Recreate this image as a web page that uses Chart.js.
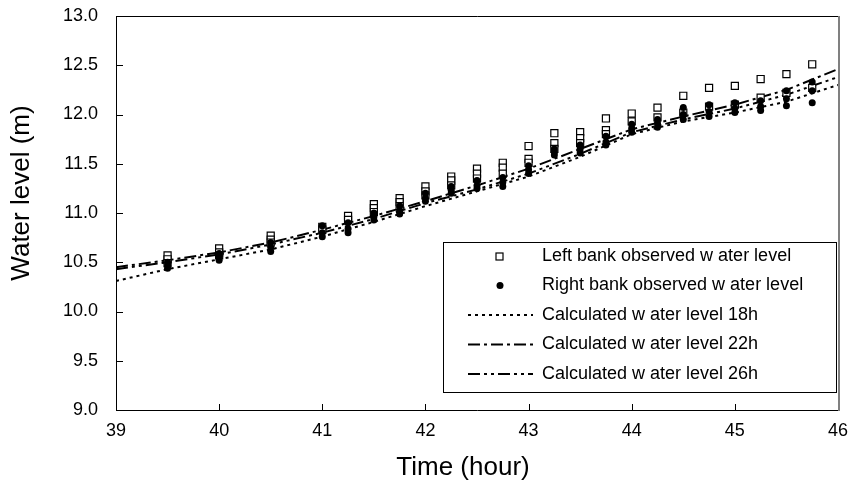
<!DOCTYPE html>
<html>
<head>
<meta charset="utf-8">
<script src="https://cdn.jsdelivr.net/npm/chart.js@4.4.0/dist/chart.umd.min.js"></script>
<style>
  html, body { margin: 0; padding: 0; background: #fff; }
</style>
</head>
<body>
<canvas id="chart" width="854" height="488"></canvas>
<script>
// observation times (hour) and stacked gauge readings at each time
const obsTimes = [39.5, 40, 40.5, 41, 41.25, 41.5, 41.75, 42, 42.25, 42.5, 42.75, 43,
  43.25, 43.5, 43.75, 44, 44.25, 44.5, 44.75, 45, 45.25, 45.5, 45.75];

const leftBank = [
  [10.57, 10.53, 10.49], [10.64, 10.60, 10.57], [10.77, 10.73, 10.70], [10.86, 10.83],
  [10.97, 10.93], [11.09, 11.05, 11.01], [11.15, 11.11, 11.07], [11.27, 11.22, 11.18],
  [11.37, 11.33, 11.28], [11.45, 11.40, 11.35], [11.51, 11.46, 11.40], [11.68, 11.55, 11.51],
  [11.81, 11.71, 11.65], [11.82, 11.76, 11.71], [11.96, 11.84, 11.80], [12.01, 11.93],
  [12.07, 11.97], [12.19, 12.02], [12.27, 12.08], [12.29, 12.10],
  [12.36, 12.17], [12.41, 12.22], [12.51, 12.27]
];

const rightBank = [
  [10.50, 10.47, 10.44], [10.59, 10.56, 10.52], [10.70, 10.65, 10.61], [10.87, 10.80, 10.76],
  [10.90, 10.84, 10.80], [11.00, 10.96, 10.93], [11.07, 11.02, 10.99], [11.20, 11.15, 11.12],
  [11.27, 11.23, 11.20], [11.33, 11.28, 11.25], [11.36, 11.31, 11.27], [11.48, 11.44, 11.40],
  [11.65, 11.62, 11.59], [11.69, 11.65, 11.61], [11.78, 11.72, 11.69], [11.90, 11.86, 11.82],
  [11.95, 11.91, 11.87], [12.07, 12.00, 11.95], [12.10, 12.03, 11.98], [12.12, 12.06, 12.02],
  [12.14, 12.08, 12.04], [12.24, 12.16, 12.09], [12.33, 12.24, 12.12]
];

// calculated water levels
const calcTimes = [39, 39.5, 40, 40.5, 41, 41.5, 42, 42.5, 43, 43.5, 44, 44.5, 45, 45.5, 46];
const calc18h = [10.31, 10.43, 10.53, 10.63, 10.76, 10.91, 11.07, 11.22, 11.37, 11.57, 11.80, 11.93, 12.02, 12.13, 12.30];
const calc22h = [10.45, 10.52, 10.60, 10.70, 10.83, 10.97, 11.12, 11.28, 11.45, 11.65, 11.85, 11.98, 12.10, 12.25, 12.46];
const calc26h = [10.43, 10.50, 10.58, 10.68, 10.80, 10.94, 11.10, 11.24, 11.40, 11.60, 11.82, 11.95, 12.06, 12.20, 12.38];

const xTitle = "Time (hour)";
const yTitle = "Water level (m)";

const FONT = "'Liberation Sans', Arial, sans-serif";

function stackPoints(times, groups) {
  return times.flatMap((t, i) => groups[i].map(v => ({ x: t, y: v })));
}
function linePoints(times, vals) {
  return times.map((t, i) => ({ x: t, y: vals[i] }));
}

// inward ticks + frame
const frameTicks = {
  id: "frameTicks",
  afterDatasetsDraw(chart) {
    const { ctx, chartArea: a, scales: { x, y } } = chart;
    ctx.save();
    ctx.strokeStyle = "#000";
    ctx.lineWidth = 1;
    ctx.beginPath();
    x.ticks.forEach(t => {
      const px = Math.round(x.getPixelForValue(t.value)) + 0.5;
      ctx.moveTo(px, a.bottom);
      ctx.lineTo(px, a.bottom - 6);
    });
    y.ticks.forEach(t => {
      const py = Math.round(y.getPixelForValue(t.value)) + 0.5;
      ctx.moveTo(a.left, py);
      ctx.lineTo(a.left + 7, py);
    });
    ctx.stroke();
    ctx.beginPath();
    ctx.moveTo(a.right, a.top + 0.5);
    ctx.lineTo(a.left + 0.5, a.top + 0.5);
    ctx.lineTo(a.left + 0.5, a.bottom + 0.5);
    ctx.lineTo(a.right, a.bottom + 0.5);
    ctx.stroke();
    ctx.strokeStyle = "#808080";
    ctx.lineWidth = 2;
    ctx.beginPath();
    ctx.moveTo(a.right + 1, a.top);
    ctx.lineTo(a.right + 1, a.bottom + 1);
    ctx.stroke();
    ctx.restore();
  }
};

// axis titles, placed a little off-centre like the original
const axisTitles = {
  id: "axisTitles",
  afterDraw(chart) {
    const { ctx, chartArea: a } = chart;
    ctx.save();
    ctx.fillStyle = "#000";
    ctx.font = "26px " + FONT;
    ctx.textAlign = "center";
    ctx.textBaseline = "middle";
    ctx.fillText(xTitle, (a.left + a.right) / 2 - 14, a.bottom + 58);
    ctx.translate(22, (a.top + a.bottom) / 2 - 20);
    ctx.rotate(-Math.PI / 2);
    ctx.fillText(yTitle, 0, 0);
    ctx.restore();
  }
};

// legend box inside the plot, lower right
const legendBox = {
  id: "legendBox",
  afterDraw(chart) {
    const { ctx, chartArea: a } = chart;
    const x0 = a.left + 327, y0 = a.top + 226, w = a.right - 2 - x0, h = 150;
    ctx.save();
    ctx.fillStyle = "#fff";
    ctx.fillRect(x0, y0, w, h);
    ctx.strokeStyle = "#000";
    ctx.lineWidth = 1;
    ctx.strokeRect(x0 + 0.5, y0 + 0.5, w, h);
    ctx.font = "18px " + FONT;
    ctx.textBaseline = "middle";
    chart.data.datasets.forEach((ds, i) => {
      const cy = y0 + 14 + i * 29.5;
      if (ds.showLine) {
        ctx.strokeStyle = ds.borderColor;
        ctx.lineWidth = ds.borderWidth;
        ctx.setLineDash(ds.borderDash);
        ctx.beginPath();
        ctx.moveTo(x0 + 25, cy);
        ctx.lineTo(x0 + 90, cy);
        ctx.stroke();
        ctx.setLineDash([]);
      } else {
        ctx.strokeStyle = ds.borderColor;
        ctx.fillStyle = ds.backgroundColor;
        ctx.lineWidth = 1.2;
        if (ds.pointStyle === "rect") {
          ctx.fillRect(x0 + 53, cy - 3, 7, 7);
          ctx.strokeRect(x0 + 53, cy - 3, 7, 7);
        } else {
          ctx.beginPath();
          ctx.arc(x0 + 57, cy, 3.5, 0, Math.PI * 2);
          ctx.fill();
        }
      }
      ctx.fillStyle = "#000";
      ctx.fillText(ds.label, x0 + 99, cy);
    });
    ctx.restore();
  }
};

new Chart(document.getElementById("chart"), {
  type: "scatter",
  data: {
    datasets: [
      {
        label: "Left bank observed w ater level",
        data: stackPoints(obsTimes, leftBank),
        order: 1,
        pointStyle: "rect",
        pointRadius: 5,
        backgroundColor: "#fff",
        borderColor: "#000",
        borderWidth: 1.2,
        showLine: false
      },
      {
        label: "Right bank observed w ater level",
        data: stackPoints(obsTimes, rightBank),
        order: 0,
        pointStyle: "circle",
        pointRadius: 3.5,
        backgroundColor: "#000",
        borderColor: "#000",
        borderWidth: 0,
        showLine: false
      },
      {
        label: "Calculated w ater level 18h",
        data: linePoints(calcTimes, calc18h),
        order: 2,
        showLine: true,
        pointRadius: 0,
        borderColor: "#000",
        borderWidth: 2,
        borderDash: [3, 4],
        backgroundColor: "#000"
      },
      {
        label: "Calculated w ater level 22h",
        data: linePoints(calcTimes, calc22h),
        order: 2,
        showLine: true,
        pointRadius: 0,
        borderColor: "#000",
        borderWidth: 2,
        borderDash: [12, 4, 3, 4],
        backgroundColor: "#000"
      },
      {
        label: "Calculated w ater level 26h",
        data: linePoints(calcTimes, calc26h),
        order: 2,
        showLine: true,
        pointRadius: 0,
        borderColor: "#000",
        borderWidth: 2,
        borderDash: [12, 4, 3, 4, 3, 4],
        backgroundColor: "#000"
      }
    ]
  },
  options: {
    responsive: false,
    animation: false,
    devicePixelRatio: 1,
    layout: { padding: { top: 16, right: 16, left: 0, bottom: 0 } },
    plugins: {
      legend: { display: false },
      tooltip: { enabled: false }
    },
    scales: {
      x: {
        type: "linear",
        min: 39,
        max: 46,
        afterFit: s => { s.height = 78; s.paddingLeft = 0; s.paddingRight = 0; },
        grid: { display: false, drawTicks: false },
        border: { display: false },
        ticks: { stepSize: 1, padding: 10, color: "#000", font: { family: FONT, size: 18 } }
      },
      y: {
        type: "linear",
        min: 9,
        max: 13,
        afterFit: s => { s.width = 116; s.paddingTop = 0; s.paddingBottom = 0; },
        grid: { display: false, drawTicks: false },
        border: { display: false },
        ticks: {
          stepSize: 0.5, padding: 18, color: "#000",
          font: { family: FONT, size: 18 },
          callback: v => v.toFixed(1)
        }
      }
    }
  },
  plugins: [frameTicks, legendBox, axisTitles]
});
</script>
</body>
</html>
